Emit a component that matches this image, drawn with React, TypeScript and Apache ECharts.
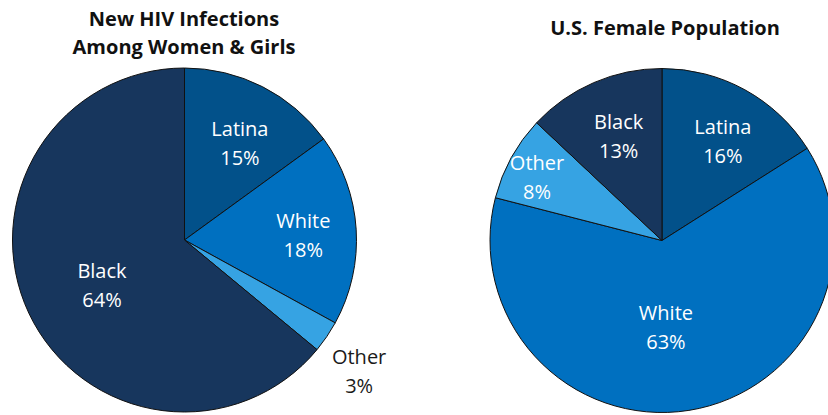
import React, { useEffect, useRef } from "react";
import * as echarts from "echarts";

const categories = ["Latina", "White", "Other", "Black"];
const hivValues = [15, 18, 3, 64];
const popValues = [16, 63, 8, 13];
const colors = ["#02518a", "#0070c0", "#36a3e3", "#17365d"];
const leftTitle = "New HIV Infections\nAmong Women & Girls";
const rightTitle = "U.S. Female Population";

const leftOffsets: [number, number][] = [[15, -18], [30, 1], [101, 81], [-2, 7]];
const rightOffsets: [number, number][] = [[18, -22], [-10, -1], [-47, -21], [-8, -23]];
const leftLabelColors = ["#fff", "#fff", "#1a1a1a", "#fff"];

const FONT = "'Open Sans', sans-serif";

function buildData(values: number[], offsets: [number, number][], labelColors?: string[]) {
  return categories.map((name, i) => ({
    name,
    value: values[i],
    itemStyle: { color: colors[i] },
    label: {
      offset: offsets[i],
      color: labelColors ? labelColors[i] : "#fff",
    },
  }));
}

export default function App() {
  const ref = useRef<HTMLDivElement>(null);
  useEffect(() => {
    if (!ref.current) return;
    const chart = echarts.init(ref.current, undefined, { renderer: "svg" });
    const common = {
      type: "pie",
      radius: 172,
      startAngle: 90,
      clockwise: true,
      avoidLabelOverlap: false,
      silent: true,
      itemStyle: { borderColor: "#111", borderWidth: 1 },
      label: {
        show: true,
        position: "inside",
        formatter: "{b}\n{c}%",
        fontFamily: FONT,
        fontSize: 20,
        lineHeight: 29,
        color: "#fff",
        align: "center",
      },
      labelLine: { show: false },
      emphasis: { disabled: true },
    };
    chart.setOption({
      animation: false,
      backgroundColor: "#fff",
      graphic: [
        {
          type: "text",
          x: 184,
          y: 4,
          style: {
            text: leftTitle,
            textAlign: "center",
            fontFamily: FONT,
            fontWeight: "bold",
            fontSize: 20,
            lineHeight: 28,
            fill: "#111",
          },
        },
        {
          type: "text",
          x: 665,
          y: 13,
          style: {
            text: rightTitle,
            textAlign: "center",
            fontFamily: FONT,
            fontWeight: "bold",
            fontSize: 20,
            lineHeight: 28,
            fill: "#111",
          },
        },
      ],
      series: [
        {
          ...common,
          name: "New HIV Infections",
          center: [184.5, 240],
          data: buildData(hivValues, leftOffsets, leftLabelColors),
        },
        {
          ...common,
          name: "U.S. Female Population",
          center: [662, 240.5],
          data: buildData(popValues, rightOffsets),
        },
      ],
    });
    return () => chart.dispose();
  }, []);
  return (
    <div
      ref={ref}
      style={{ position: "fixed", left: 0, top: 0, width: 828, height: 415 }}
    />
  );
}
